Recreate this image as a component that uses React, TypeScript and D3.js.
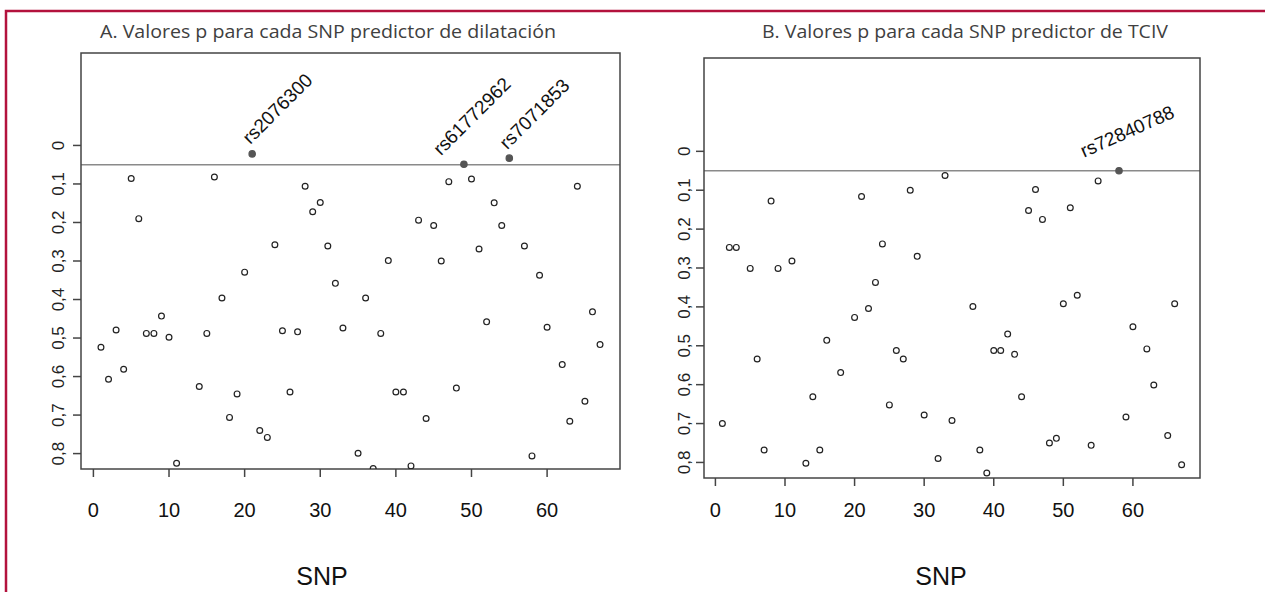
import React, { useEffect, useRef } from 'react'
import { select, scaleLinear } from 'd3'

// panel A: SNP index and p value (dilatación)
const snpA = [1, 2, 3, 4, 5, 6, 7, 8, 9, 10, 11, 14, 15, 16, 17, 18, 19, 20, 21, 22, 23, 24, 25, 26, 27, 28, 29, 30,
    31, 32, 33, 35, 36, 37, 38, 39, 40, 41, 42, 43, 44, 45, 46, 47, 48, 49, 50, 51, 52, 53, 54, 55, 57, 58, 59, 60,
    62, 63, 64, 65, 66, 67]
const pA = [0.524, 0.607, 0.479, 0.581, 0.086, 0.19, 0.488, 0.488, 0.443, 0.498, 0.825, 0.626, 0.488, 0.082, 0.396,
    0.706, 0.645, 0.329, 0.022, 0.74, 0.758, 0.258, 0.481, 0.64, 0.484, 0.106, 0.172, 0.148, 0.261, 0.358, 0.474,
    0.799, 0.396, 0.839, 0.488, 0.299, 0.64, 0.64, 0.832, 0.194, 0.709, 0.208, 0.3, 0.094, 0.63, 0.049, 0.087, 0.269,
    0.458, 0.149, 0.208, 0.033, 0.261, 0.806, 0.337, 0.472, 0.569, 0.716, 0.106, 0.664, 0.432, 0.517]
const hitsA = [21, 49, 55]
const hitNamesA = ['rs2076300', 'rs61772962', 'rs7071853']

// panel B: SNP index and p value (TCIV)
const snpB = [1, 2, 3, 5, 6, 7, 8, 9, 11, 13, 14, 15, 16, 18, 20, 21, 22, 23, 24, 25, 26, 27, 28, 29, 30, 32, 33, 34,
    37, 38, 39, 40, 41, 42, 43, 44, 45, 46, 47, 48, 49, 50, 51, 52, 54, 55, 58, 59, 60, 62, 63, 65, 66, 67]
const pB = [0.7, 0.247, 0.247, 0.301, 0.534, 0.768, 0.128, 0.301, 0.282, 0.802, 0.631, 0.768, 0.486, 0.569, 0.427,
    0.116, 0.404, 0.337, 0.238, 0.652, 0.512, 0.534, 0.1, 0.27, 0.678, 0.79, 0.062, 0.692, 0.399, 0.768, 0.827, 0.512,
    0.512, 0.47, 0.522, 0.631, 0.152, 0.098, 0.175, 0.75, 0.738, 0.392, 0.145, 0.37, 0.756, 0.076, 0.05, 0.683, 0.451,
    0.508, 0.601, 0.731, 0.392, 0.806]
const hitsB = [58]
const hitNamesB = ['rs72840788']

const xTicks = [0, 10, 20, 30, 40, 50, 60]
const yTicks = [0, 0.1, 0.2, 0.3, 0.4, 0.5, 0.6, 0.7, 0.8]
const threshold = 0.05
const titleA = 'A. Valores p para cada SNP predictor de dilatación'
const titleB = 'B. Valores p para cada SNP predictor de TCIV'
const xLabel = 'SNP'

// where each SNP name sits relative to its point: dx, dy, angle
const nudge = {
    rs2076300: [-2, -9, -45],
    rs61772962: [-23, -8, -45],
    rs7071853: [-2, -8, -45],
    rs72840788: [-35, -13, -24],
}

const panels = [
    {id: 'a', snp: snpA, p: pA, hits: hitsA, names: hitNamesA, title: titleA,
        box: {left: 81, top: 53, right: 620, bottom: 469}, titleX: 100, titleW: 456, snpX: 322, yLabX: 63.5},
    {id: 'b', snp: snpB, p: pB, hits: hitsB, names: hitNamesB, title: titleB,
        box: {left: 704, top: 58, right: 1200, bottom: 478}, titleX: 762, titleW: 406, snpX: 941, yLabX: 690},
]

const fmt = (d) => String(+d.toFixed(1)).replace('.', ',')

function App () {

    const ref = useRef()

    useEffect(() => {
        draw()
    }, [])

    const draw = () => {
        const svg = select(ref.current)
        svg.selectAll('*').remove()

        // red frame, top and left only
        svg.append('path')
            .attr('d', 'M6,592 L6,11 L1265,11')
            .attr('fill', 'none')
            .attr('stroke', '#b3123d')
            .attr('stroke-width', 2.5)

        panels.forEach(pn => {
            const b = pn.box
            const x = scaleLinear().domain([-1.64, 69.64]).range([b.left, b.right])
            const y = scaleLinear().domain([-0.24, 0.84]).range([b.top, b.bottom])
            const g = svg.append('g')

            g.append('clipPath').attr('id', 'clip-' + pn.id)
                .append('rect')
                .attr('x', b.left).attr('y', b.top)
                .attr('width', b.right - b.left).attr('height', b.bottom - b.top)

            g.append('text')
                .attr('x', pn.titleX).attr('y', 38)
                .attr('textLength', pn.titleW)
                .attr('lengthAdjust', 'spacingAndGlyphs')
                .style('font-family', '"Open Sans", sans-serif')
                .style('font-size', '18px')
                .attr('fill', '#404040')
                .text(pn.title)

            // threshold line
            g.append('line')
                .attr('x1', b.left).attr('x2', b.right)
                .attr('y1', y(threshold)).attr('y2', y(threshold))
                .attr('stroke', '#8a8a8a').attr('stroke-width', 1.5)

            g.append('rect')
                .attr('x', b.left).attr('y', b.top)
                .attr('width', b.right - b.left).attr('height', b.bottom - b.top)
                .attr('fill', 'none').attr('stroke', '#444').attr('stroke-width', 1.5)

            // x axis
            g.selectAll('.xt').data(xTicks).join('line')
                .attr('x1', d => x(d)).attr('x2', d => x(d))
                .attr('y1', b.bottom).attr('y2', b.bottom + 8)
                .attr('stroke', '#444').attr('stroke-width', 1.5)
            g.selectAll('.xl').data(xTicks).join('text')
                .attr('x', d => x(d)).attr('y', 517)
                .attr('text-anchor', 'middle')
                .style('font-family', '"Liberation Sans", Arial, sans-serif')
                .style('font-size', '20px')
                .attr('fill', '#111')
                .text(d => d)

            // y axis
            g.selectAll('.yt').data(yTicks).join('line')
                .attr('x1', b.left - 8).attr('x2', b.left)
                .attr('y1', d => y(d)).attr('y2', d => y(d))
                .attr('stroke', '#444').attr('stroke-width', 1.5)
            g.selectAll('.yl').data(yTicks).join('text')
                .attr('transform', d => 'translate(' + pn.yLabX + ',' + y(d) + ') rotate(-90)')
                .attr('text-anchor', 'middle')
                .style('font-family', '"Liberation Sans", Arial, sans-serif')
                .style('font-size', '17px')
                .attr('fill', '#222')
                .text(d => fmt(d))

            g.append('text')
                .attr('x', pn.snpX).attr('y', 585)
                .attr('text-anchor', 'middle')
                .style('font-family', '"Liberation Sans", Arial, sans-serif')
                .style('font-size', '25px')
                .attr('fill', '#111')
                .text(xLabel)

            const pts = pn.snp.map((s, i) => ({s: s, p: pn.p[i], hit: pn.hits.indexOf(s)}))

            g.append('g').attr('clip-path', 'url(#clip-' + pn.id + ')')
                .selectAll('circle').data(pts).join('circle')
                .attr('cx', d => x(d.s)).attr('cy', d => y(d.p))
                .attr('r', d => d.hit >= 0 ? 3.2 : 2.9)
                .attr('fill', d => d.hit >= 0 ? '#555' : 'none')
                .attr('stroke', d => d.hit >= 0 ? '#555' : '#222')
                .attr('stroke-width', 1.2)

            g.selectAll('.lab').data(pts.filter(d => d.hit >= 0)).join('text')
                .attr('transform', d => {
                    const n = nudge[pn.names[d.hit]]
                    return 'translate(' + (x(d.s) + n[0]) + ',' + (y(d.p) + n[1]) + ') rotate(' + n[2] + ')'
                })
                .style('font-family', '"Liberation Sans", Arial, sans-serif')
                .style('font-size', '19px')
                .attr('fill', '#111')
                .text(d => pn.names[d.hit])
        })
    }

    return (
        <div>
            <svg ref={ref} width={1265} height={592}
                 style={{position: 'absolute', left: 0, top: 0, background: '#fff'}} />
        </div>
    )
}

export default App
